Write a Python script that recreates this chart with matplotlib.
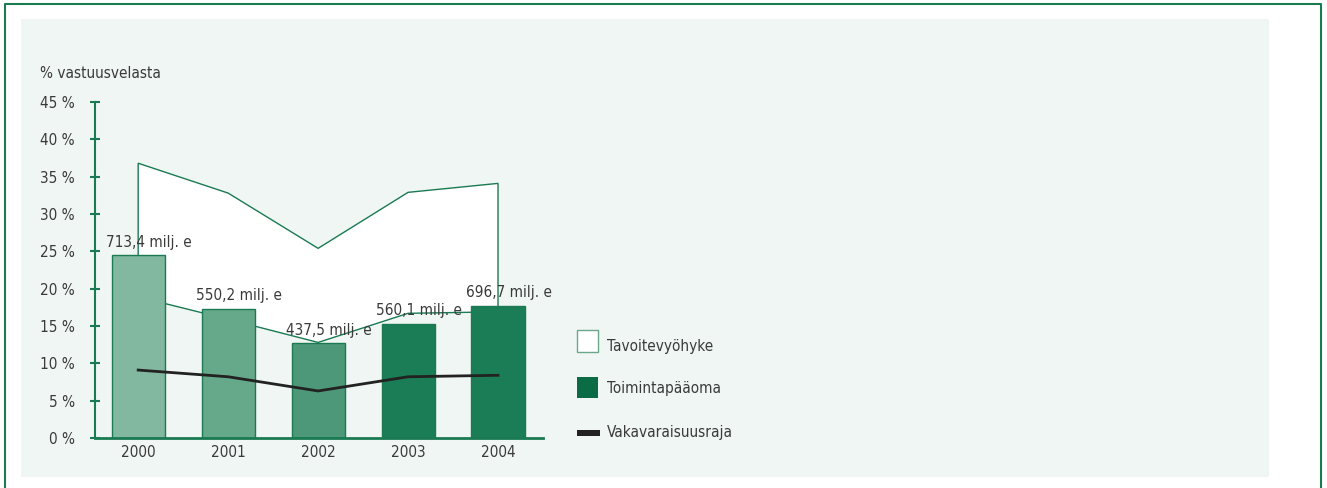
import matplotlib
matplotlib.use('Agg')
from matplotlib import pyplot as plt
from matplotlib.patches import Rectangle
from matplotlib.lines import Line2D

years = ['2000', '2001', '2002', '2003', '2004']
capital = [24.5, 17.3, 12.7, 15.3, 17.7]
capital_labels = ['713,4 milj. e', '550,2 milj. e', '437,5 milj. e', '560,1 milj. e', '696,7 milj. e']
zone_upper = [36.8, 32.8, 25.4, 32.9, 34.1]
zone_lower = [18.9, 15.9, 12.8, 16.7, 16.9]
solvency_limit = [9.1, 8.2, 6.3, 8.2, 8.4]
yticks = [0, 5, 10, 15, 20, 25, 30, 35, 40, 45]

bar_colors = ['#82b8a0', '#65a88a', '#4d9878', '#1b7d56', '#1b7d56']
green = '#1a7a52'
text_col = '#3a3a3a'

plt.rcParams['font.family'] = ['DejaVu Sans']
plt.rcParams['font.stretch'] = 'condensed'
plt.rcParams['font.size'] = 11

W, H = 1327, 488
fig = plt.figure(figsize=(W / 100, H / 100), dpi=100)
fig.patch.set_facecolor('white')

# outer frame (open at bottom) and light panel
fig.add_artist(Line2D([5 / W, 5 / W, 1321 / W, 1321 / W], [0, 1 - 4 / H, 1 - 4 / H, 0],
                      transform=fig.transFigure, color=green, lw=1.5))
fig.add_artist(Rectangle((21 / W, 1 - 477 / H), (1269 - 21) / W, (477 - 19) / H,
                         transform=fig.transFigure, facecolor='#f0f6f3', edgecolor='none', zorder=0))

ax = fig.add_axes([95 / W, 1 - 438 / H, (543 - 95) / W, (438 - 102) / H])
ax.set_facecolor('none')
x = list(range(len(years)))

# target zone polygon
poly_x = x + x[::-1]
poly_y = zone_upper + zone_lower[::-1]
ax.fill(poly_x, poly_y, facecolor='white', edgecolor=green, lw=1, zorder=1)

ax.bar(x, capital, width=0.59, color=bar_colors, edgecolor=green, lw=1, zorder=2)
ax.plot(x, solvency_limit, color='#222222', lw=2, zorder=3)

for xi, v, lab in zip(x, capital, capital_labels):
    ax.annotate(lab, (xi + 0.12, v), xytext=(0, 4), textcoords='offset points',
                ha='center', va='bottom', color=text_col, fontsize=11, zorder=4)

ax.set_xlim(-0.48, 4.5)
ax.set_ylim(0, 45)
ax.set_yticks(yticks)
ax.set_yticklabels([f'{t} %' for t in yticks])
ax.set_xticks(x)
ax.set_xticklabels(years)
for s in ['top', 'right']:
    ax.spines[s].set_visible(False)
ax.spines['left'].set_color(green)
ax.spines['left'].set_linewidth(1.5)
ax.spines['bottom'].set_color(green)
ax.spines['bottom'].set_linewidth(2)
ax.tick_params(axis='y', direction='inout', length=7, width=1.5, color=green,
               labelcolor=text_col, pad=11)
ax.tick_params(axis='x', length=0, labelcolor=text_col, pad=5)

fig.text(40 / W, 1 - 73 / H, '% vastuusvelasta', ha='left', va='center', color=text_col, fontsize=11)

# legend
fig.add_artist(Rectangle((577 / W, 1 - 352 / H), 21 / W, 22 / H, transform=fig.transFigure,
                         facecolor='white', edgecolor='#6aa88c', lw=1))
fig.add_artist(Rectangle((577 / W, 1 - 398 / H), 21 / W, 21 / H, transform=fig.transFigure,
                         facecolor='#0a6b45', edgecolor='none'))
fig.add_artist(Rectangle((577 / W, 1 - 436 / H), 23 / W, 6 / H, transform=fig.transFigure,
                         facecolor='#222222', edgecolor='none'))
for yy, t in zip([346, 389, 433], ['Tavoitevyöhyke', 'Toimintapääoma', 'Vakavaraisuusraja']):
    fig.text(607 / W, 1 - yy / H, t, ha='left', va='center', color=text_col, fontsize=11)

fig.savefig('out.png', dpi=100)
